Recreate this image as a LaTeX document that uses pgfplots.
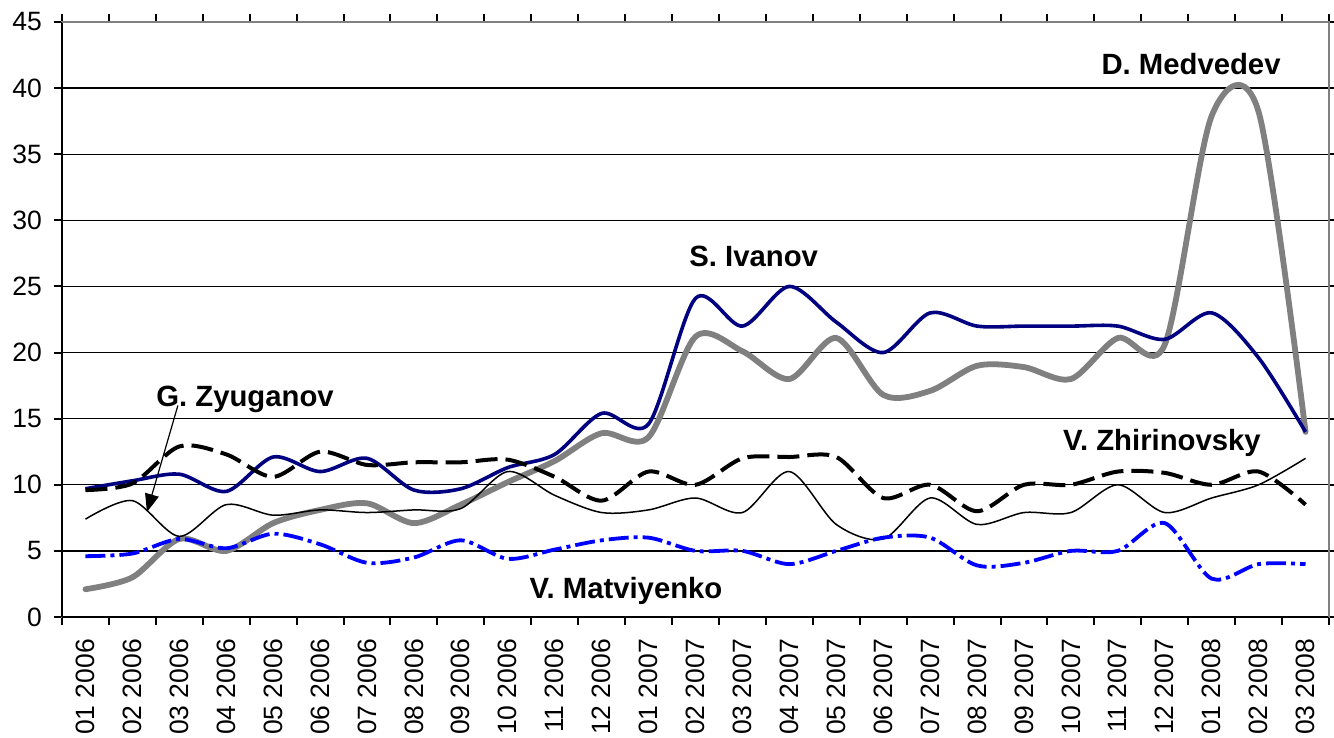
\documentclass[border=0pt]{standalone}
\usepackage{pgfplots}
\pgfplotsset{compat=1.18}
\usepackage{pgfplotstable}
\usepackage{fontspec}
\setmainfont{Liberation Sans}
\usetikzlibrary{arrows.meta,calc}
\definecolor{navyc}{RGB}{0,0,128}
\definecolor{grayc}{RGB}{128,128,128}
\definecolor{bluec}{RGB}{0,0,255}
\pgfplotstableread{
k Iv Med Zh Zy Mat
0 9.7 2.1 9.6 7.4 4.6
1 10.3 3.0 10.1 8.8 4.8
2 10.8 5.9 12.9 6.1 5.9
3 9.5 5.0 12.3 8.5 5.2
4 12.1 7.1 10.6 7.7 6.3
5 11.0 8.1 12.5 8.1 5.5
6 12.0 8.6 11.5 7.9 4.1
7 9.6 7.1 11.7 8.1 4.5
8 9.7 8.5 11.7 8.2 5.8
9 11.3 10.2 11.9 11.0 4.4
10 12.3 11.8 10.6 9.2 5.1
11 15.4 13.9 8.8 7.9 5.8
12 14.6 13.6 11.0 8.1 6.0
13 24.1 21.2 10.0 9.0 5.0
14 22.0 20.1 12.0 7.9 5.0
15 25.0 18.0 12.1 11.0 4.0
16 22.3 21.1 12.1 7.0 5.0
17 20.0 16.8 9.0 5.9 6.0
18 23.0 17.1 10.0 9.0 6.0
19 22.0 19.0 8.0 7.0 3.9
20 22.0 18.9 10.0 7.9 4.1
21 22.0 18.0 10.0 7.9 5.0
22 22.0 21.1 11.0 10.0 5.0
23 21.0 20.6 10.9 7.9 7.1
24 23.0 37.9 10.0 9.0 2.9
25 19.6 38.2 11.0 10.0 4.0
26 14.0 14.0 8.5 12.0 4.0
}\datatable
\begin{document}
\begin{tikzpicture}
\begin{axis}[
  name=ax,
  scale only axis,
  width=633.5bp, height=297.5bp,
  xmin=-0.5, xmax=26.5, ymin=0, ymax=45,
  xtick={0,...,26},
  xticklabels={01 2006,02 2006,03 2006,04 2006,05 2006,06 2006,07 2006,08 2006,09 2006,10 2006,11 2006,12 2006,01 2007,02 2007,03 2007,04 2007,05 2007,06 2007,07 2007,08 2007,09 2007,10 2007,11 2007,12 2007,01 2008,02 2008,03 2008},
  minor xtick={-0.5,0.5,...,26.5},
  ytick={0,5,...,45},
  minor ytick={0,5,...,45},
  major tick length=0pt,
  minor tick length=4bp,
  tick align=outside,
  tick style={black, line width=1bp},
  ymajorgrids,
  major grid style={black, line width=0.65bp},
  axis line style={grayc, line width=1bp},
  /pgf/number format/assume math mode=true,
  tick label style={font=\fontsize{13.3}{13.3}\selectfont},
  xticklabel style={rotate=90, anchor=east},
  xticklabel shift=7.5bp,
  yticklabel shift=6.5bp,
  clip=false,
  every axis plot/.append style={smooth},
]
\addplot[grayc, line width=2.9bp, line cap=round] table[x=k, y=Med] {\datatable};
\addplot[navyc, line width=1.8bp] table[x=k, y=Iv] {\datatable};
\addplot[black, line width=2bp, dash pattern=on 11bp off 4bp] table[x=k, y=Zh] {\datatable};
\addplot[black, line width=0.75bp] table[x=k, y=Zy] {\datatable};
\addplot[bluec, line width=1.9bp, dash pattern=on 10bp off 2.5bp on 2bp off 2.5bp] table[x=k, y=Mat] {\datatable};
\draw[black, line width=1.2bp] (rel axis cs:0,0) -- (rel axis cs:0,1);
\draw[black, line width=1.2bp] (rel axis cs:0,0) -- (rel axis cs:1,0);
\draw[grayc, line width=1bp] (rel axis cs:0,1) -- (rel axis cs:1,1) -- (rel axis cs:1,0);
\begin{scope}[every node/.style={font=\bfseries\fontsize{14.7}{14.7}\selectfont}]
\node at (axis cs:23.56,41.83) {D. Medvedev};
\node at (axis cs:14.24,27.3) {S. Ivanov};
\node at (axis cs:3.40,16.49) {G. Zyuganov};
\node at (axis cs:22.94,13.16) {V. Zhirinovsky};
\node at (axis cs:11.52,1.97) {V. Matviyenko};
\end{scope}
\draw[black, line width=0.6bp, -{Triangle[length=9bp,width=7bp]}] (axis cs:1.97,16.0) -- (axis cs:1.31,7.94);
\end{axis}
\pgfresetboundingbox
\path[use as bounding box] ($(ax.south west)+(-31bp,-60.5bp)$) rectangle ($(ax.north east)+(2.5bp,11bp)$);
\end{tikzpicture}
\end{document}
